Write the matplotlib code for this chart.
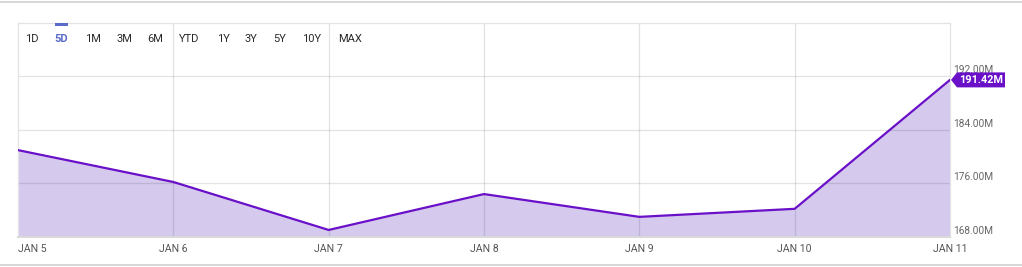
import matplotlib.pyplot as plt
from matplotlib.patches import Polygon, Rectangle

plt.rcParams['font.family'] = ['Roboto', 'DejaVu Sans']

dates = ['JAN 5', 'JAN 6', 'JAN 7', 'JAN 8', 'JAN 9', 'JAN 10', 'JAN 11']
values = [180.95, 176.2, 169.05, 174.4, 171.0, 172.2, 191.42]
yticks = [168, 176, 184, 192]
ytick_labels = ['168.00M', '176.00M', '184.00M', '192.00M']
ranges = ['1D', '5D', '1M', '3M', '6M', 'YTD', '1Y', '3Y', '5Y', '10Y', 'MAX']
range_x = [32, 61, 93, 124, 155, 189, 223, 251, 280, 312, 350]

W, H = 1022, 267
fig = plt.figure(figsize=(W / 100, H / 100), dpi=100)
L, R, T, B = 18, 950, 23, 237
ax = fig.add_axes([L / W, 1 - B / H, (R - L) / W, (B - T) / H])

x = list(range(len(dates)))
line_c = '#6a10c8'
ax.fill_between(x, values, 168, color='#d5caee', lw=0, zorder=1)
ax.plot(x, values, color=line_c, lw=1.6, zorder=3, solid_joinstyle='miter')
ax.set_xlim(0, len(dates) - 1)
ax.set_ylim(168, 199.9)

grid_c = '#e3e3e3'
for yv in yticks[1:]:
    ax.axhline(yv, color='black', alpha=0.11, lw=0.9, zorder=2)
for xv in x[1:-1]:
    ax.axvline(xv, color='black', alpha=0.11, lw=0.9, zorder=2)
for s in ax.spines.values():
    s.set_color(grid_c)
    s.set_linewidth(0.9)
ax.spines['bottom'].set_color('#d9d9d9')
ax.spines['bottom'].set_linewidth(1.5)
ax.set_xticks([])
ax.set_yticks([])

# x labels
lab_c = '#555555'
for i, d in enumerate(dates):
    ha = 'left' if i == 0 else 'center'
    ax.text(i, -0.055, d, transform=ax.get_xaxis_transform(), ha=ha, va='center',
            fontsize=7.6, color=lab_c)

# y labels
for yv, lab in zip(yticks, ytick_labels):
    fig.text(953 / W, 1 - (B - (yv - 168) / 8 * 53.7 - 6) / H, lab, ha='left', va='center',
             fontsize=7.3, color='#666666')

# value tag
last = values[-1]
yp = ax.transData.transform((x[-1], last))[1]
tag = Polygon([(951, yp), (957, yp + 7.5), (1005, yp + 7.5), (1005, yp - 7.5), (957, yp - 7.5)],
              closed=True, transform=None, facecolor=line_c, edgecolor='none', zorder=5)
fig.patches.append(tag)
fig.text(981 / W, yp / H, f'{last:.2f}M', ha='center', va='center', fontsize=7.8,
         color='white', fontweight='bold', zorder=6)

# range buttons
for lab, bx in zip(ranges, range_x):
    sel = lab == '5D'
    fig.text(bx / W, 1 - 39 / H, lab, ha='center', va='center', fontsize=8,
             color='#5b6bc9' if sel else '#2a2a2a', fontweight='bold' if sel else 'normal')
fig.patches.append(Rectangle((55 / W, 1 - 26 / H), 13 / W, 3 / H, transform=fig.transFigure,
                             facecolor='#5b6bc9', edgecolor='none'))

# card borders
for yy in (2, 265):
    fig.add_artist(plt.Line2D([0, 1], [1 - yy / H, 1 - yy / H], transform=fig.transFigure,
                              color='#cfcfcf', lw=1.2))

fig.savefig('out.png', dpi=100)
